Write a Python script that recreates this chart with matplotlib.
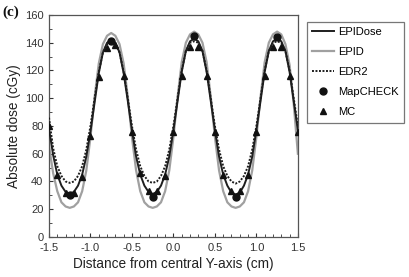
import matplotlib
matplotlib.use("Agg")
import matplotlib.pyplot as plt
import numpy as np
from matplotlib.ticker import MultipleLocator

plt.rcParams['font.family'] = ['Liberation Sans', 'DejaVu Sans']

# position grid for the measured profiles (cm), step 0.05
x_line = np.linspace(-1.5, 1.5, 61)

epidose = [78, 59, 45, 37, 32.5, 31, 32.5, 37, 45, 58, 76, 97, 118, 133, 140, 142, 140, 133, 118, 98,
           77, 58, 45, 37, 32.5, 31, 32.5, 37, 45, 58, 77, 98, 119, 134, 141, 143, 141, 134, 119, 98,
           77, 58, 45, 37, 32, 30.5, 32, 37, 45, 58, 77, 98, 119, 134, 141, 143, 141, 134, 119, 98,
           77]
epid = [66, 46, 33, 25, 22, 21, 22, 25, 33, 48, 72, 101, 125, 139, 145, 147, 145, 139, 125, 101,
        72, 48, 33, 25, 22, 21, 22, 25, 33, 48, 72, 101, 126, 140, 146, 148, 146, 140, 126, 101,
        72, 48, 33, 25, 22, 21, 22, 25, 33, 48, 72, 101, 126, 140, 146, 148, 146, 139, 124, 96,
        60]
edr2 = [86, 64, 51, 44, 40, 39, 40, 44, 51, 63, 80, 100, 119, 133, 139, 140, 139, 133, 119, 100,
        80, 63, 51, 44, 40, 39, 40, 44, 51, 63, 80, 100, 120, 134, 140, 141, 140, 134, 120, 100,
        80, 63, 51, 44, 40, 38.5, 40, 44, 51, 63, 80, 100, 120, 134, 140, 141, 140, 134, 120, 100,
        80]

# MapCHECK diodes
x_map = [-1.25, -0.75, -0.25, 0.25, 0.75, 1.25]
mapcheck = [30, 141, 29, 145, 29, 144]

# Monte Carlo, step 0.1 cm
x_mc = np.linspace(-1.5, 1.5, 31)
mc = [80, 45, 32, 32, 43, 73, 115, 136, 138, 116,
      76, 46, 33, 33, 44, 76, 116, 137, 137, 116,
      76, 45, 33, 33, 45, 76, 116, 137, 137, 116,
      76]

fig = plt.figure(figsize=(4.1, 2.77), dpi=100)
ax = fig.add_axes([0.1195, 0.1444, 0.607, 0.8016])

ax.plot(x_line, epid, color='#a0a0a0', lw=1.6, label='EPID', zorder=2)
ax.plot(x_line, epidose, color='#1e1e1e', lw=1.4, label='EPIDose', zorder=3)
ax.plot(x_line, edr2, color='#1e1e1e', lw=1.4, ls=(0, (1, 0.8)), label='EDR2', zorder=3)
ax.plot(x_map, mapcheck, 'o', color='#111111', ms=5, label='MapCHECK', zorder=5)
ax.plot(x_mc, mc, '^', color='#111111', ms=5, label='MC', zorder=4)

ax.set_xlim(-1.5, 1.5)
ax.set_ylim(0, 160)
ax.xaxis.set_major_locator(MultipleLocator(0.5))
ax.xaxis.set_minor_locator(MultipleLocator(0.1))
ax.yaxis.set_major_locator(MultipleLocator(20))
ax.yaxis.set_minor_locator(MultipleLocator(10))
ax.xaxis.set_major_formatter(plt.FuncFormatter(lambda v, p: '%.1f' % v))
ax.tick_params(which='both', direction='in', labelsize=8, colors='#333333', pad=4)
ax.tick_params(which='major', length=3)
ax.tick_params(which='minor', length=2)
for s in ax.spines.values():
    s.set_color('#555555')
    s.set_linewidth(0.9)

ax.set_xlabel('Distance from central Y-axis (cm)', fontsize=9.8, color='#222222', labelpad=3)
ax.set_ylabel('Absolute dose (cGy)', fontsize=9.8, color='#222222', labelpad=3)

handles, labels = ax.get_legend_handles_labels()
order = [1, 0, 2, 3, 4]
leg = ax.legend([handles[i] for i in order], [labels[i] for i in order],
                loc='upper left', bbox_to_anchor=(1.035, 0.97), borderaxespad=0,
                fontsize=8, frameon=True, fancybox=False, handlelength=2.0,
                labelspacing=0.9, borderpad=0.5, handletextpad=0.3)
leg.get_frame().set_edgecolor('#555555')
leg.get_frame().set_linewidth(0.9)

fig.text(0.005, 0.955, '(c)', fontsize=11, fontweight='bold', family='Liberation Serif',
         color='#111111', va='center')

fig.savefig('out.png', dpi=100)
